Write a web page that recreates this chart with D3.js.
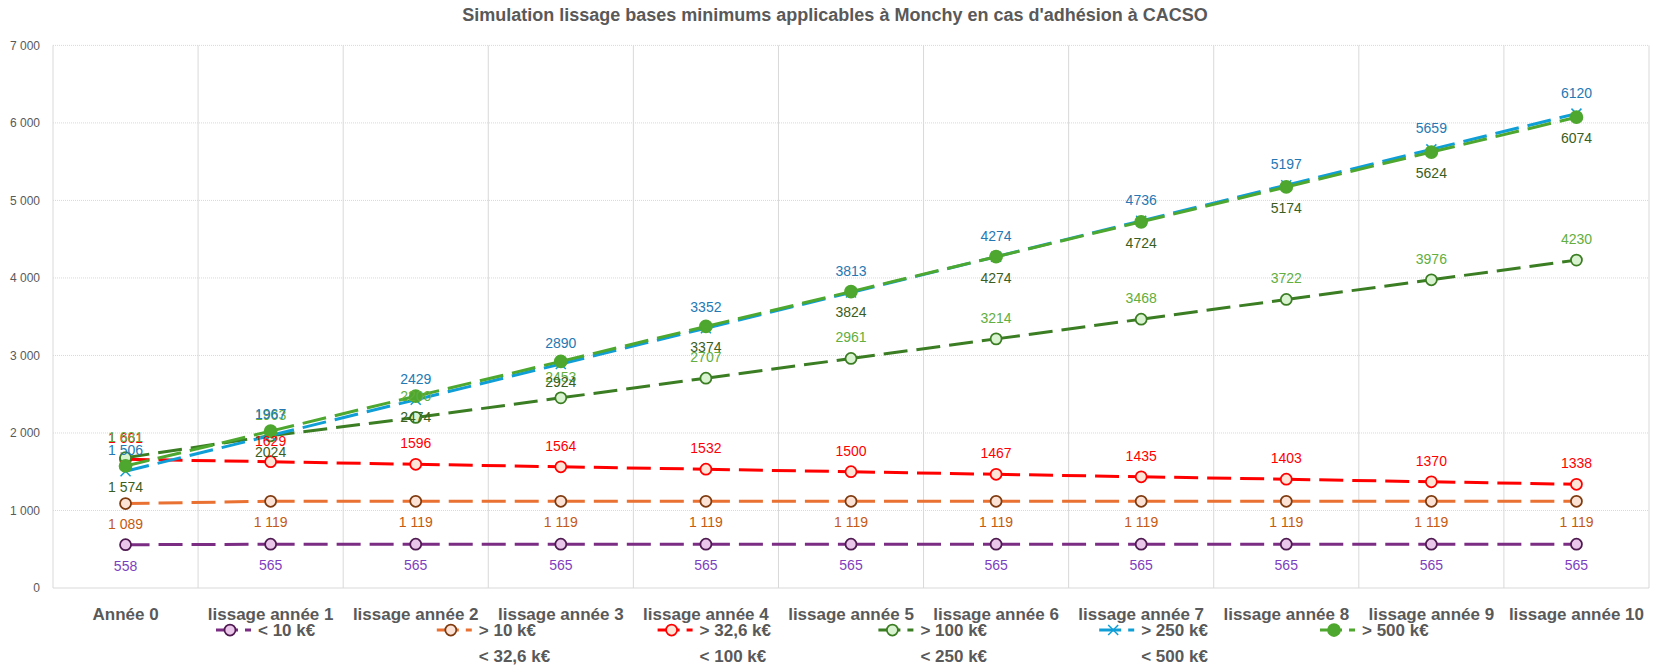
<!DOCTYPE html>
<html>
<head>
<meta charset="utf-8">
<script src="https://cdn.jsdelivr.net/npm/d3@7"></script>
<style>
body { margin: 0; background: #fff; }
svg { display: block; }
</style>
</head>
<body>
<div id="chart"></div>
<script>
// valeurs
var categories = ["Année 0", "lissage année 1", "lissage année 2", "lissage année 3", "lissage année 4",
	"lissage année 5", "lissage année 6", "lissage année 7", "lissage année 8", "lissage année 9", "lissage année 10"];

var s10k = [558, 565, 565, 565, 565, 565, 565, 565, 565, 565, 565];
var s32k = [1089, 1119, 1119, 1119, 1119, 1119, 1119, 1119, 1119, 1119, 1119];
var s100k = [1661, 1629, 1596, 1564, 1532, 1500, 1467, 1435, 1403, 1370, 1338];
var s250k = [1681, 1963, 2200, 2453, 2707, 2961, 3214, 3468, 3722, 3976, 4230];
var s500k = [1506, 1967, 2429, 2890, 3352, 3813, 4274, 4736, 5197, 5659, 6120];
var sPlus = [1574, 2024, 2474, 2924, 3374, 3824, 4274, 4724, 5174, 5624, 6074];

var legendNames = [["< 10 k€"], ["> 10 k€", "< 32,6 k€"], ["> 32,6 k€", "< 100 k€"],
	["> 100 k€", "< 250 k€"], ["> 250 k€", "< 500 k€"], ["> 500 k€"]];

var yTicks = [0, 1000, 2000, 3000, 4000, 5000, 6000, 7000];

var title = "Simulation lissage bases minimums applicables à Monchy en cas d'adhésion à CACSO";

var series = [
	{ values: s10k, line: "#7B2C83", fill: "#EBC6EB", stroke: "#4E1A50", label: "#7E3FBE", pos: 1, fmt: "all", marker: "circle" },
	{ values: s32k, line: "#E97132", fill: "#FBE2D5", stroke: "#7F3A0F", label: "#C55A11", pos: 1, fmt: "all", marker: "circle" },
	{ values: s100k, line: "#FF0000", fill: "#FCE4D6", stroke: "#FF0000", label: "#FF0000", pos: -1, fmt: "first", marker: "circle" },
	{ values: s250k, line: "#3B7D23", fill: "#D9F2D0", stroke: "#3B7D23", label: "#62AE3E", pos: -1, fmt: "first", marker: "circle" },
	{ values: s500k, line: "#0F9ED5", fill: "none", stroke: "#0F9ED5", label: "#2479B4", pos: -1, fmt: "first", marker: "x" },
	{ values: sPlus, line: "#4EA72E", fill: "#4EA72E", stroke: "#4EA72E", label: "#3A5E22", pos: 1, fmt: "first", marker: "dot" }
];

var W = 1655, H = 667;
var plotLeft = 53, plotRight = 1649, plotTop = 45.4, plotBottom = 588;

var fr = d3.formatLocale({ decimal: ",", thousands: " ", grouping: [3], currency: ["", " €"] });
var fmtSpace = fr.format(",");

var svg = d3.select("#chart").append("svg")
	.attr("width", W)
	.attr("height", H)
	.style("font-family", "'Liberation Sans', Arial, sans-serif");

var x = d3.scaleBand().domain(categories).range([plotLeft, plotRight]).padding(0);
var y = d3.scaleLinear().domain([0, 7000]).range([plotBottom, plotTop]);
var cx = function (i) { return x(categories[i]) + x.bandwidth() / 2; };

// titre
svg.append("text")
	.attr("x", 835)
	.attr("y", 21)
	.attr("text-anchor", "middle")
	.style("font-weight", "bold")
	.style("font-size", "18px")
	.style("fill", "#595959")
	.text(title);

// grille horizontale
svg.append("g")
	.selectAll("line")
	.data(yTicks.filter(function (d) { return d > 0; }))
	.enter().append("line")
	.attr("x1", plotLeft).attr("x2", plotRight)
	.attr("y1", function (d) { return y(d); })
	.attr("y2", function (d) { return y(d); })
	.style("stroke", "#D9D9D9")
	.style("stroke-dasharray", "1,1");

// grille verticale
var vx = categories.map(function (c) { return x(c); }).concat([plotRight]);
svg.append("g")
	.selectAll("line")
	.data(vx)
	.enter().append("line")
	.attr("x1", function (d) { return d; })
	.attr("x2", function (d) { return d; })
	.attr("y1", plotTop).attr("y2", plotBottom)
	.style("stroke", "#D9D9D9");

svg.append("line")
	.attr("x1", plotLeft).attr("x2", plotRight)
	.attr("y1", plotBottom).attr("y2", plotBottom)
	.style("stroke", "#D9D9D9");

// axe Y
var yAxis = svg.append("g")
	.attr("transform", "translate(" + (plotLeft - 13) + ",0)")
	.call(d3.axisLeft(y).tickValues(yTicks).tickSize(0).tickFormat(function (d) { return fmtSpace(d); }));
yAxis.select(".domain").remove();
yAxis.selectAll("text")
	.attr("x", 0)
	.style("font-size", "12px")
	.style("fill", "#595959");

// axe X
var xAxis = svg.append("g")
	.attr("transform", "translate(0," + plotBottom + ")")
	.call(d3.axisBottom(x).tickSize(0));
xAxis.select(".domain").remove();
xAxis.selectAll("text")
	.attr("y", 32)
	.attr("dy", 0)
	.style("font-weight", "bold")
	.style("font-size", "17px")
	.style("fill", "#595959");

function drawMarker(g, s, px, py) {
	if (s.marker == "x") {
		g.append("path")
			.attr("d", "M" + (px - 5) + "," + (py - 5) + "L" + (px + 5) + "," + (py + 5) +
				"M" + (px - 5) + "," + (py + 5) + "L" + (px + 5) + "," + (py - 5))
			.style("stroke", s.stroke)
			.style("stroke-width", 1.5)
			.style("fill", "none");
	} else {
		g.append("circle")
			.attr("cx", px).attr("cy", py)
			.attr("r", s.marker == "dot" ? 6 : 5.5)
			.style("fill", s.fill)
			.style("stroke", s.stroke)
			.style("stroke-width", 1.75);
	}
}

// séries : chaque segment repart du début du tiret, comme dans Excel
series.forEach(function (s) {
	var g = svg.append("g");
	for (var i = 0; i < s.values.length - 1; i++) {
		g.append("line")
			.attr("x1", cx(i)).attr("y1", y(s.values[i]))
			.attr("x2", cx(i + 1)).attr("y2", y(s.values[i + 1]))
			.style("stroke", s.line)
			.style("stroke-width", 3)
			.style("stroke-dasharray", "24,9");
	}
	s.values.forEach(function (v, i) {
		drawMarker(g, s, cx(i), y(v));
	});
});

// étiquettes de données
series.forEach(function (s) {
	svg.append("g")
		.selectAll("text")
		.data(s.values)
		.enter().append("text")
		.attr("x", function (d, i) { return cx(i); })
		.attr("y", function (d) { return y(d) + s.pos * 21; })
		.attr("dy", "0.35em")
		.attr("text-anchor", "middle")
		.style("font-size", "14px")
		.style("fill", s.label)
		.text(function (d, i) { return (s.fmt == "all" || i == 0) ? fmtSpace(d) : String(d); });
});

// légende
var legend = svg.append("g");
series.forEach(function (s, k) {
	var mx = 230 + k * 220.8, my = 630;
	var g = legend.append("g");
	g.append("line")
		.attr("x1", mx - 14).attr("x2", mx + 8)
		.attr("y1", my).attr("y2", my)
		.style("stroke", s.line).style("stroke-width", 3);
	g.append("line")
		.attr("x1", mx + 15).attr("x2", mx + 21)
		.attr("y1", my).attr("y2", my)
		.style("stroke", s.line).style("stroke-width", 3);
	drawMarker(g, s, mx, my);
	legendNames[k].forEach(function (t, j) {
		g.append("text")
			.attr("x", mx + 28)
			.attr("y", my + j * 26)
			.attr("dy", "0.35em")
			.style("font-weight", "bold")
			.style("font-size", "17px")
			.style("fill", "#595959")
			.text(t);
	});
});
</script>
</body>
</html>
